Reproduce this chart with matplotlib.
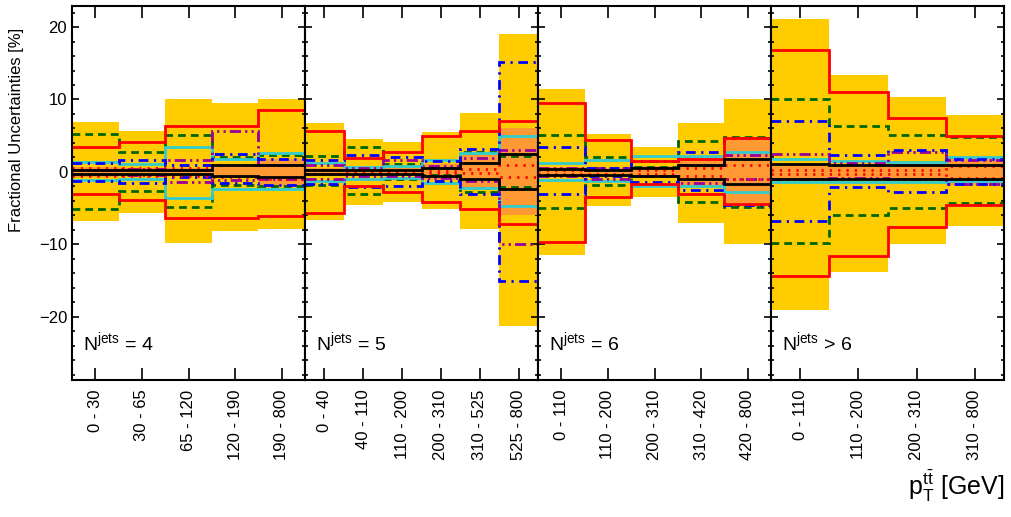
import numpy as np
import matplotlib
matplotlib.use("Agg")
import matplotlib.pyplot as plt
from matplotlib.ticker import MultipleLocator

plt.rcParams['font.family'] = ['Liberation Sans', 'DejaVu Sans']
plt.rcParams['mathtext.fontset'] = 'custom'
plt.rcParams['mathtext.rm'] = 'Liberation Sans'
plt.rcParams['mathtext.it'] = 'Liberation Sans:italic'
plt.rcParams['mathtext.default'] = 'regular'

# --- data: 4 jet-multiplicity panels, bins of pT(ttbar) ---
panel_names = ['= 4', '= 5', '= 6', '> 6']
panel_nbins = [5, 6, 5, 4]
bin_labels = ['0 - 30', '30 - 65', '65 - 120', '120 - 190', '190 - 800',
              '0 - 40', '40 - 110', '110 - 200', '200 - 310', '310 - 525', '525 - 800',
              '0 - 110', '110 - 200', '200 - 310', '310 - 420', '420 - 800',
              '0 - 110', '110 - 200', '200 - 310', '310 - 800']

# total uncertainty (yellow band)
total_up = [6.9, 5.6, 10.0, 9.5, 10.0, 6.7, 4.5, 4.2, 5.5, 8.1, 19.1,
            11.5, 5.2, 3.5, 6.7, 10.0, 21.1, 13.4, 10.3, 7.8]
total_dn = [-6.8, -5.6, -9.8, -8.1, -7.9, -6.6, -4.6, -4.1, -5.1, -7.8, -21.3,
            -11.5, -4.7, -3.4, -7.1, -9.9, -19.0, -13.8, -10.0, -7.5]
# statistical uncertainty (orange band)
stat_up = [0.7, 0.5, 0.5, 1.0, 1.8, 0.6, 0.5, 0.6, 1.1, 2.4, 6.1,
           0.7, 0.6, 0.8, 2.0, 4.4, 1.1, 1.1, 1.1, 2.0]
stat_dn = [-0.7, -0.5, -0.5, -0.8, -2.0, -0.6, -0.5, -0.6, -1.1, -2.4, -6.0,
           -0.7, -0.6, -0.8, -2.0, -4.3, -1.1, -1.1, -1.1, -1.8]
# individual components
red_up = [3.4, 4.1, 6.4, 6.4, 8.6, 5.6, 1.9, 2.8, 4.9, 5.6, 7.1,
          9.5, 4.4, 1.5, 1.8, 4.7, 16.8, 11.1, 7.5, 5.0]
red_dn = [-3.0, -3.9, -6.3, -6.4, -6.1, -5.6, -2.0, -2.8, -4.1, -5.1, -7.2,
          -9.6, -3.5, -1.7, -3.1, -4.4, -14.3, -11.6, -7.6, -4.6]
green_up = [5.2, 2.8, 5.1, 2.0, 2.3, 2.2, 3.4, 1.1, 0.5, 2.8, 2.2,
            5.1, 2.0, 0.7, 4.3, 4.8, 10.1, 6.3, 5.1, 4.8]
green_dn = [-5.1, -2.6, -4.9, -1.8, -2.0, -1.8, -3.1, -0.9, -0.4, -2.7, -2.1,
            -5.0, -1.8, -0.5, -4.1, -4.8, -9.8, -6.0, -5.0, -4.3]
cyan_up = [1.4, 1.1, 3.5, 1.8, 2.6, 1.2, 0.7, 0.8, 1.6, 2.6, 5.0,
           1.3, 1.6, 2.2, 2.2, 2.7, 1.8, 1.5, 1.4, 2.0]
cyan_dn = [-1.1, -0.9, -3.6, -2.3, -2.4, -1.3, -0.9, -0.8, -1.5, -2.2, -4.7,
           -1.1, -1.3, -1.9, -1.9, -2.7, -1.4, -1.4, -1.4, -1.3]
blue_up = [1.3, 1.6, 0.9, 2.5, 1.8, 1.6, 2.3, 2.1, 1.5, 3.2, 15.2,
           3.4, 0.5, 1.5, 2.7, 4.7, 7.0, 2.4, 3.0, 1.8]
blue_dn = [-1.2, -1.5, -0.7, -1.5, -1.8, -1.6, -2.1, -1.9, -1.2, -3.0, -15.0,
           -3.1, -0.5, -1.4, -2.5, -4.6, -6.7, -2.1, -2.8, -1.7]
purple_up = [0.3, 0.4, 1.6, 5.6, 1.0, 1.0, 0.5, 1.6, 0.8, 1.9, 3.0,
             0.5, 0.5, 0.5, 1.0, 2.3, 2.5, 1.3, 2.7, 1.6]
purple_dn = [-0.3, -0.4, -1.4, -1.1, -1.0, -1.0, -0.5, -0.6, -0.8, -1.2, -9.9,
             -0.5, -1.0, -0.5, -1.5, -1.0, -1.0, -0.8, -1.0, -1.6]
dot_up = [0.6, 0.5, 0.5, 0.9, 1.0, 0.3, 0.2, 0.2, 0.2, 0.4, 0.9,
          0.3, 0.3, 0.3, 0.5, 0.9, 0.3, 0.3, 0.3, 0.8]
dot_dn = [-0.6, -0.5, -0.6, -0.7, -0.9, -0.3, -0.2, -0.2, -0.2, -0.2, -0.7,
          -0.3, -0.3, -0.3, -0.5, -0.9, -0.3, -0.3, -0.3, -0.8]
black_up = [0.3, 0.3, 0.3, 0.9, 0.9, 0.3, 0.3, 0.3, 0.5, 1.2, 2.5,
            0.4, 0.3, 0.5, 1.0, 1.8, 1.1, 1.0, 1.0, 1.0]
black_dn = [-0.3, -0.3, -0.3, -0.5, -0.7, -0.3, -0.3, -0.3, -0.5, -1.0, -2.3,
            -0.4, -0.4, -0.5, -0.9, -1.7, -1.0, -1.0, -1.0, -1.0]

# component styles
components = [
    (green_up, green_dn, '#006600', (0, (2.8, 1.8))),
    (cyan_up, cyan_dn, '#33CCCC', '-'),
    (purple_up, purple_dn, '#990099', (0, (4, 1.5, 0.8, 1.5, 0.8, 1.5))),
    (blue_up, blue_dn, '#0000FF', (0, (3.5, 2, 0.8, 2))),
    (red_up, red_dn, '#FF0000', '-'),
    (dot_up, dot_dn, '#FF0000', (0, (0.8, 2.2))),
    (black_up, black_dn, 'black', '-'),
]

fig = plt.figure(figsize=(10.12, 5.17), dpi=100)
W, H = 1012.0, 517.0
x0, pw = 72 / W, 233 / W
y0, ph = 1 - 380 / H, (380 - 6) / H

start = 0
for p, nb in enumerate(panel_nbins):
    ax = fig.add_axes([x0 + p * pw, y0, pw, ph])
    sl = slice(start, start + nb)
    edges = np.arange(nb + 1)

    ax.stairs(total_up[sl], edges, baseline=total_dn[sl], fill=True,
              color='#FFCC00', zorder=1)
    ax.stairs(stat_up[sl], edges, baseline=stat_dn[sl], fill=True,
              color='#FF9933', zorder=2)
    for k, (up, dn, col, ls) in enumerate(components):
        for vals in (up, dn):
            ax.stairs(vals[sl], edges, baseline=None, color=col,
                      linestyle=ls, linewidth=2.0, zorder=3 + k)

    ax.set_xlim(0, nb)
    ax.set_ylim(-28.7, 22.9)
    ax.set_xticks(edges[:-1] + 0.5)
    ax.set_xticklabels(bin_labels[sl], rotation=90, fontsize=12)
    ax.yaxis.set_major_locator(MultipleLocator(10))
    ax.yaxis.set_minor_locator(MultipleLocator(2))
    ax.tick_params(axis='x', which='both', direction='in', top=True,
                   length=8.5, width=1.2, pad=7)
    ax.tick_params(axis='y', which='major', direction='in', left=True, right=True,
                   length=5, width=1.2, labelsize=12)
    ax.tick_params(axis='y', which='minor', direction='in', left=True, right=True,
                   length=2.5, width=1.2)
    if p > 0:
        ax.tick_params(axis='y', labelleft=False)
    for s in ax.spines.values():
        s.set_linewidth(1.5)
        s.set_zorder(20)

    ax.text(0.047, 0.08, 'N$^{jets}$ ' + panel_names[p], transform=ax.transAxes,
            fontsize=14, ha='left', va='baseline', zorder=25)
    start += nb

fig.text(17 / W, 1 - 28 / H, 'Fractional Uncertainties [%]', rotation=90,
         ha='center', va='top', fontsize=12)
fig.text(1005 / W, 0.025, r'$p_{T}^{t\bar{t}}$ [GeV]', ha='right', va='bottom',
         fontsize=18)

fig.savefig('out.png', dpi=100)
